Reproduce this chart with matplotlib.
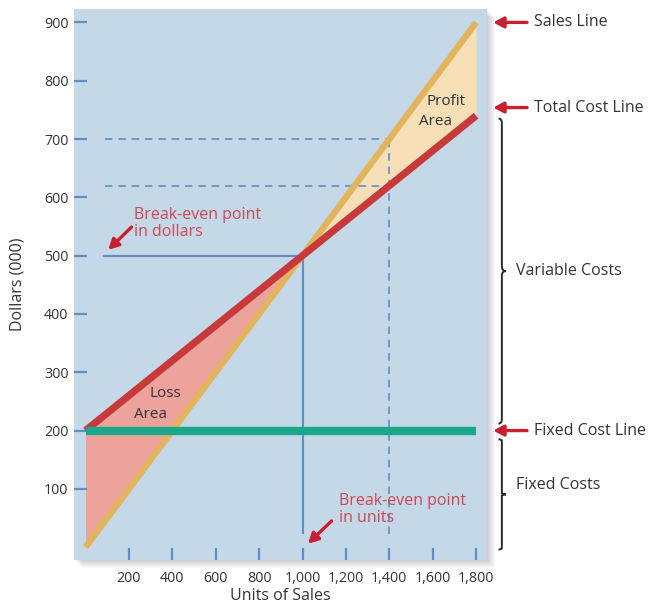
import matplotlib
matplotlib.use("Agg")
import matplotlib.pyplot as plt
from matplotlib.patches import Rectangle, PathPatch
from matplotlib.path import Path
from matplotlib.ticker import FuncFormatter

plt.rcParams['font.family'] = ['Open Sans', 'DejaVu Sans']

# Break-even model values (dollars in thousands)
units = [0, 1000, 1800]
sales = [0, 500, 900]
total_cost = [200, 500, 740]
fixed_cost = [200, 200, 200]
breakeven_units = 1000
breakeven_dollars = 500
target_units = 1400
target_sales = 700
target_cost = 620
x_ticks = [200, 400, 600, 800, 1000, 1200, 1400, 1600, 1800]
y_ticks = [100, 200, 300, 400, 500, 600, 700, 800, 900]

BG = '#c5d8e8'
GOLD = '#e2b45e'
RED = '#c8393b'
GREEN = '#1ba88a'
LOSS = '#eba39c'
PROFIT = '#f6dfb6'
GUIDE = '#5b8fc7'
NOTE = '#cf4752'
ARROW = '#c9202f'
TXT = '#333333'

W, H = 650, 608
fig = plt.figure(figsize=(W / 100, H / 100), dpi=100)
fig.patch.set_facecolor('white')

left, right, top, bottom = 74, 487, 9, 560
ax = fig.add_axes([left / W, 1 - bottom / H, (right - left) / W, (bottom - top) / H])

# soft drop shadow to the right and below the plot panel
for k in range(1, 9):
    fig.add_artist(Rectangle(((left + k) / W, 1 - (bottom + k) / H),
                             (right - left) / W, (bottom - top) / H,
                             transform=fig.transFigure, facecolor='#000000',
                             alpha=0.025, edgecolor='none', zorder=-1))

ax.set_facecolor(BG)
for s in ax.spines.values():
    s.set_visible(False)

ax.set_xlim(-53, 1850)
ax.set_ylim(-22, 923)

# loss and profit regions between the sales and total cost lines
ax.fill_between(units[:2], sales[:2], total_cost[:2], color=LOSS, lw=0, zorder=1)
ax.fill_between(units[1:], sales[1:], total_cost[1:], color=PROFIT, lw=0, zorder=1)

# guide lines for the break-even point and target volume
ax.plot([90, target_units], [target_sales, target_sales], color=GUIDE, lw=1.2,
        dashes=(4.5, 3.5), zorder=2)
ax.plot([90, target_units], [target_cost, target_cost], color=GUIDE, lw=1.2,
        dashes=(4.5, 3.5), zorder=2)
ax.plot([target_units, target_units], [22, target_sales], color=GUIDE, lw=1.2,
        dashes=(4.5, 3.5), zorder=2)
ax.plot([85, breakeven_units], [breakeven_dollars, breakeven_dollars], color=GUIDE,
        lw=1.5, zorder=2)
ax.plot([breakeven_units, breakeven_units], [25, breakeven_dollars], color=GUIDE,
        lw=1.5, zorder=2)

# cost and revenue lines
ax.plot(units, sales, color=GOLD, lw=4.6, solid_capstyle='butt', zorder=3)
ax.plot(units, total_cost, color=RED, lw=5.2, solid_capstyle='butt', zorder=4)
ax.plot(units, fixed_cost, color=GREEN, lw=6.0, solid_capstyle='butt', zorder=5)

# ticks drawn inside the panel
ax.set_xticks(x_ticks)
ax.set_yticks(y_ticks)
ax.xaxis.set_major_formatter(FuncFormatter(lambda v, p: f'{int(v):,}'))
ax.tick_params(axis='both', direction='in', length=9, width=1.6, color=GUIDE,
               labelcolor=TXT, labelsize=10.3)
ax.tick_params(axis='x', pad=8)
ax.tick_params(axis='y', pad=4)
ax.set_xlabel('Units of Sales', fontsize=11.5, color=TXT, labelpad=1)
ax.set_ylabel('Dollars (000)', fontsize=11.5, color=TXT, labelpad=13)

# area labels
ax.text(1662, 765, 'Profit', ha='center', va='center', fontsize=11, color=TXT, zorder=6)
ax.text(1611, 730, 'Area', ha='center', va='center', fontsize=11, color=TXT, zorder=6)
ax.text(370, 264, 'Loss', ha='center', va='center', fontsize=11, color=TXT, zorder=6)
ax.text(301, 228, 'Area', ha='center', va='center', fontsize=11, color=TXT, zorder=6)

# break-even callouts
ax.text(225, 555, 'Break-even point\nin dollars', ha='left', va='center',
        fontsize=11.5, color=NOTE, linespacing=1.12, zorder=6)
ax.annotate('', xy=(105, 510), xytext=(212, 549),
            arrowprops=dict(arrowstyle='-|>,head_length=0.6,head_width=0.32',
                            color=ARROW, lw=2.4, shrinkA=0, shrinkB=0), zorder=6)
ax.text(1168, 65, 'Break-even point\nin units', ha='left', va='center',
        fontsize=11.5, color=NOTE, linespacing=1.12, zorder=6)
ax.annotate('', xy=(1025, 6), xytext=(1134, 45),
            arrowprops=dict(arrowstyle='-|>,head_length=0.6,head_width=0.32',
                            color=ARROW, lw=2.4, shrinkA=0, shrinkB=0), zorder=6)

# right-hand line labels with pointers
blend = ax.get_yaxis_transform()
for yv, label in [(900, 'Sales Line'), (754, 'Total Cost Line'), (200, 'Fixed Cost Line')]:
    ax.annotate('', xy=(1.015, yv), xycoords=blend, xytext=(1.097, yv), textcoords=blend,
                arrowprops=dict(arrowstyle='-|>,head_length=0.6,head_width=0.32',
                                color=ARROW, lw=2.4, shrinkA=0, shrinkB=0),
                annotation_clip=False)
    ax.text(1.113, yv, label, transform=blend, ha='left', va='center',
            fontsize=11.5, color=TXT, clip_on=False)


def brace(y0, y1, x=1.036, hook=0.008, tip=0.01):
    ym = (y0 + y1) / 2
    r = (y1 - y0) * 0.015
    verts = [(x - hook, y1), (x, y1), (x, y1 - r),
             (x, ym + r), (x, ym), (x + tip, ym),
             (x, ym), (x, ym - r),
             (x, y0 + r), (x, y0), (x - hook, y0)]
    codes = [Path.MOVETO, Path.CURVE3, Path.CURVE3,
             Path.LINETO, Path.CURVE3, Path.CURVE3,
             Path.CURVE3, Path.CURVE3,
             Path.LINETO, Path.CURVE3, Path.CURVE3]
    ax.add_patch(PathPatch(Path(verts, codes), transform=blend, fill=False,
                           edgecolor='#2a2a2a', lw=1.4, clip_on=False))


brace(212, 735)
ax.text(1.07, 474, 'Variable Costs', transform=blend, ha='left', va='center',
        fontsize=11.5, color=TXT, clip_on=False)
brace(-4, 185)
ax.text(1.07, 107, 'Fixed Costs', transform=blend, ha='left', va='center',
        fontsize=11.5, color=TXT, clip_on=False)

fig.savefig('out.png', dpi=100)
